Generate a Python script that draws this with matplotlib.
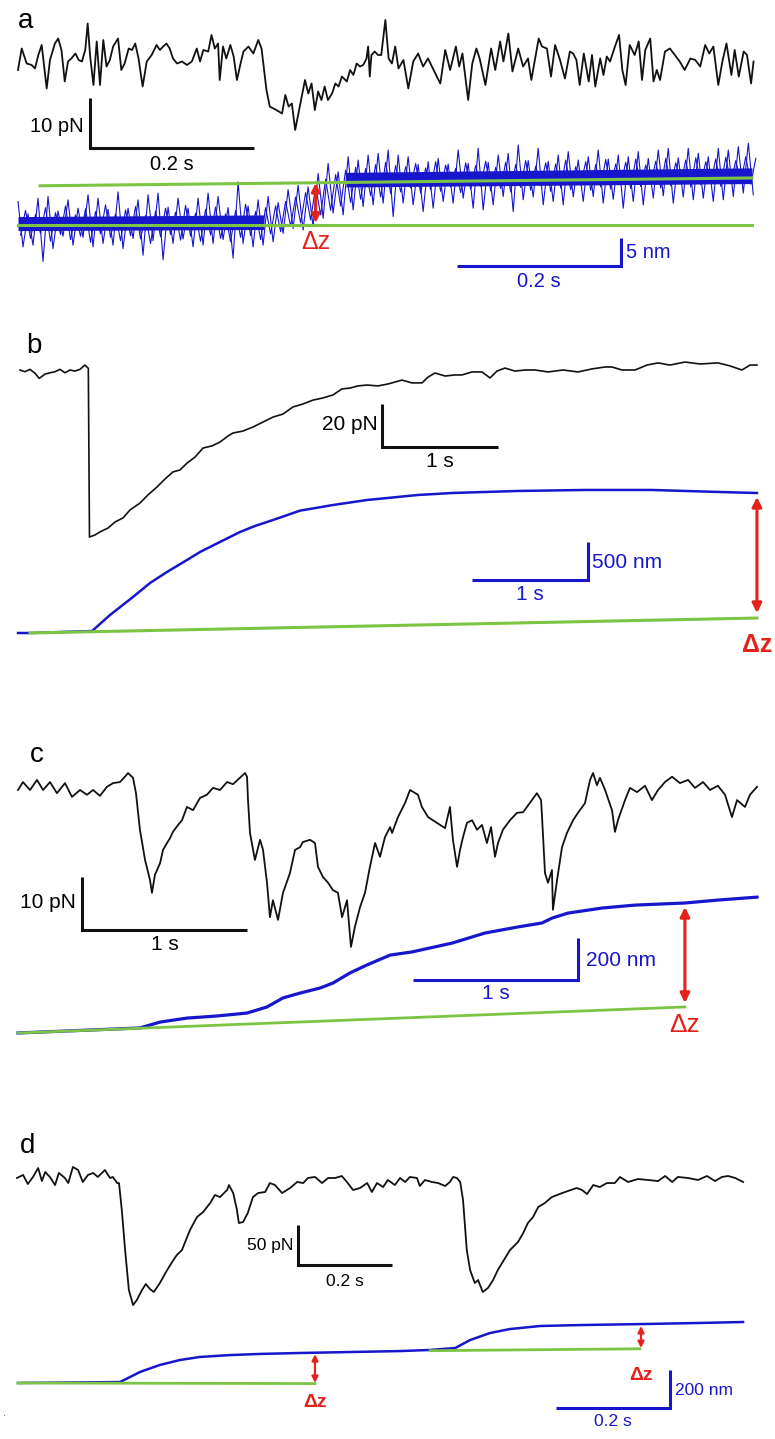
import matplotlib
matplotlib.use("Agg")
import matplotlib.pyplot as plt
import numpy as np

plt.rcParams["font.family"] = ["Liberation Sans", "DejaVu Sans"]

# ---- panel a : force (pN) and extension (nm) vs time (s)
ta_force = [0.000, 0.0045, 0.0106, 0.0167, 0.0207, 0.0248, 0.0289, 0.035, 0.039, 0.045,
            0.049, 0.053, 0.057, 0.061, 0.065, 0.070, 0.074, 0.078, 0.082, 0.085,
            0.088, 0.092, 0.096, 0.100, 0.104, 0.108, 0.112, 0.116, 0.122, 0.126,
            0.130, 0.135, 0.139, 0.143, 0.147, 0.152, 0.157, 0.163, 0.169, 0.173,
            0.177, 0.181, 0.185, 0.189, 0.194, 0.200, 0.206, 0.212, 0.218, 0.222,
            0.226, 0.232, 0.236, 0.240, 0.244, 0.246, 0.250, 0.254, 0.259, 0.263,
            0.267, 0.271, 0.275, 0.281, 0.287, 0.293, 0.297, 0.303, 0.307, 0.315,
            0.322, 0.326, 0.330, 0.334, 0.338, 0.342, 0.346, 0.350, 0.354, 0.358,
            0.362, 0.366, 0.370, 0.374, 0.378, 0.383, 0.387, 0.391, 0.395, 0.401,
            0.405, 0.409, 0.413, 0.417, 0.421, 0.425, 0.427, 0.429, 0.431, 0.435,
            0.439, 0.443, 0.448,
            0.452, 0.456, 0.460, 0.464, 0.470, 0.476, 0.482, 0.488, 0.494, 0.500,
            0.506, 0.515, 0.521, 0.527, 0.534, 0.538, 0.542, 0.549, 0.554, 0.559,
            0.563, 0.570, 0.577, 0.582, 0.588, 0.592, 0.598, 0.603, 0.610, 0.616,
            0.622, 0.626, 0.635, 0.639, 0.645, 0.650, 0.655, 0.661, 0.667, 0.673,
            0.677, 0.681, 0.685, 0.690, 0.696, 0.700, 0.704, 0.710, 0.714, 0.718,
            0.722, 0.728, 0.733, 0.737, 0.741, 0.746, 0.752, 0.757, 0.761, 0.765,
            0.771, 0.775, 0.779, 0.783, 0.789, 0.795, 0.801, 0.807, 0.813, 0.820,
            0.826, 0.832, 0.838, 0.843, 0.848, 0.854, 0.859, 0.864, 0.870, 0.874,
            0.879, 0.885, 0.889, 0.894, 0.897]
fa_force = [-2.0, 2.3, -0.7, -1.0, -1.7, 1.0, 3.0, -5.7, 0, 3.3,
            4.3, 2.0, -4.3, -0.3, 0.3, 1.3, 0, -0.3, 2.0, 7.3,
            0.7, -5.0, 3.7, -5.0, 4.0, -1.3, 0, 2.7, 4.3, -2.0,
            -0.7, 2.3, 2.0, 3.3, 0.3, -5.3, -0.3, 1.0, 3.0, 2.0,
            2.7, 3.3, 2.3, 0.3, -0.7, -0.3, -1.0, -0.3, 2.3, -0.3,
            2.0, 1.7, 5.0, 2.3, 3.3, -4.0, 2.7, 0.3, 3.0, 0.7,
            -4.0, -1.0, 1.7, 2.7, 1.3, 4.0, 2.3, -6.0, -9.3, -10.0,
            -10.7, -7.0, -9.3, -8.7, -14.0, -10.7, -7.3, -4.0, -6.7, -4.7,
            -10.0, -6.3, -8.0, -5.3, -8.0, -6.7, -4.7, -5.3, -3.3, -4.3,
            -2.0, -3.0, -0.7, -1.3, -1.0, 0.3, 2.7, -3.3, 1.0, 1.7,
            1.0, 1.0, 8.0,
            0.3, -0.7, 2.7, -1.7, 0, -5.7, -0.3, 1.3, -1.3, 0.3,
            -1.7, -4.7, 2.0, -2.0, 2.7, -1.3, 1.3, -8.0, -0.7, 2.3,
            0.3, -5.0, 2.3, -2.0, 3.7, -0.3, 5.3, -2.3, 2.3, -1.3,
            0.3, -4.0, 4.3, 2.7, 2.3, -3.3, 3.0, 0, -3.7, 1.7,
            1.3, 0, -5.0, 1.3, -4.3, 1.0, -5.3, 0.3, -3.0, 0.7,
            -0.3, 2.7, 5.0, -2.0, -5.0, 3.0, 1.0, 3.7, -4.0, 2.0,
            4.3, -4.3, -2.0, -4.0, 1.7, 2.3, 1.0, -0.3, -2.0, 0.3,
            0, -1.3, 3.0, 1.3, 2.7, -5.0, -0.3, 3.3, -3.0, 2.0,
            -3.3, 1.7, 1.0, -4.7, -0.3]

# extension trace a, sampled every dt_a seconds: peak readings and body readings
dt_a = 0.0061
za_ext = [4.2, -3.9, 2.0, -3.6, 4.8, -6.5, 5.1, -4.2, 2.5, -2.0,
          4.5, -3.6, 3.0, -2.2, 5.4, -3.9, 4.8, -3.3, 2.8, -3.6,
          5.9, -4.2, 3.0, -2.4, 4.5, -5.4, 5.4, -2.8, 5.7, -6.2,
          3.2, -3.3, 4.8, -2.5, 3.0, -3.9, 4.8, -3.6, 5.7, -3.3,
          5.1, -2.6, 3.1, -5.9, 7.7, -3.3, 3.4, -3.9, 4.5, -3.6,
          5.1, -3.0, 4.0, -1.5, 6.3, -0.6, 7.1, -0.9, 6.8, -0.3,
          9.2, 1.2, 11.0, 2.1, 9.5, 1.8, 12.2, 2.7, 11.6, 3.3,
          12.5, 3.6, 12.8, 3.9, 13.4, 1.5, 12.5, 3.9, 12.2, 3.6,
          10.8, 2.4, 11.3, 3.0, 11.9, 4.2, 10.9, 3.9, 13.4, 4.8,
          11.0, 3.0, 13.7, 2.7, 11.2, 3.6, 12.5, 5.1, 12.8, 2.4,
          14.3, 4.5, 11.5, 5.0, 13.7, 3.6, 11.4, 4.2, 12.5, 3.6,
          13.1, 5.0, 11.6, 4.2, 12.2, 5.1, 13.4, 3.9, 11.8, 4.6,
          12.5, 3.0, 12.2, 4.2, 13.1, 3.6, 11.9, 4.8, 13.4, 5.2,
          13.7, 3.9, 12.0, 5.0, 13.7, 4.5, 12.8, 4.8, 12.2, 4.2,
          13.7, 4.5, 13.4, 5.1, 14.0, 5.7, 14.6, 5.4]
za_body = [-1.8, 2.6, -2.4, 1.9, -1.5, 3.1, -2.9, 2.2, -1.7, 3.4,
           -2.6, 1.8, -2.0, 2.9, -3.1, 2.4, -1.6, 3.6, -2.2, 2.0,
           -2.8, 2.7, -1.9, 3.3, -2.5, 1.7, -3.3, 2.5, -2.1, 3.0,
           -1.7, 2.3, -2.7, 3.5, -2.0, 2.1, -2.9, 2.8, -1.8, 3.2,
           -2.4, 2.0, -3.0, 2.6, -2.2, 3.7, -1.9, 2.4, -2.6, 3.1,
           -1.6, 3.4, -1.2, 4.2,
           -0.2, 5.0, 0.4, 5.8, 0.9, 6.9, 1.8, 8.2, 2.6, 9.0,
           3.4, 9.8, 4.0, 10.3, 4.6, 10.1, 5.2, 10.8, 5.0, 11.2, 5.6, 10.6,
           5.9, 10.4, 6.6, 11.0, 5.7, 10.2, 6.3, 11.3, 6.0, 10.7,
           6.8, 10.1, 5.8, 11.1, 6.4, 10.6, 6.9, 11.4, 6.1, 10.3,
           6.5, 11.2, 5.9, 10.8, 6.7, 11.5, 6.2, 10.5, 7.0, 11.1,
           6.0, 10.9, 6.6, 11.6, 6.3, 10.4, 7.1, 11.3, 6.2, 10.8,
           6.8, 11.7, 6.4, 10.9, 7.2, 11.2, 6.5, 11.8, 6.9, 10.7,
           7.3, 11.4, 6.6, 11.9, 7.0, 11.1, 7.4, 11.6, 6.8, 12.0,
           7.2, 11.3, 7.6, 11.8, 6.9, 12.1, 7.5, 11.5, 7.7, 12.2,
           7.3, 11.9]
core_left_t = [0, 0.300]
core_left_lo = [-1.0, -0.8]
core_left_hi = [1.5, 1.8]
core_right_t = [0.400, 0.895]
core_right_lo = [6.8, 7.4]
core_right_hi = [9.4, 10.2]
base_a_t = [0, 0.895]
base_a_z = [0, 0]
top_a_t = [0.027, 0.895]
top_a_z = [7.0, 8.4]

# ---- panel b
tb_force = [0, 0.043, 0.086, 0.129, 0.166, 0.216, 0.259, 0.302, 0.345, 0.388,
            0.431, 0.474, 0.517, 0.560, 0.589, 0.599, 0.647, 0.690, 0.759, 0.819,
            0.888, 0.948, 1.034, 1.103, 1.181, 1.250, 1.319, 1.379, 1.440, 1.509,
            1.578, 1.655, 1.724, 1.793, 1.836, 1.922, 2.009, 2.095, 2.181, 2.267,
            2.353, 2.440, 2.526, 2.612, 2.698, 2.776, 2.845, 2.914, 2.991, 3.086,
            3.172, 3.233, 3.293, 3.379, 3.466, 3.517, 3.578, 3.664, 3.750, 3.810,
            3.897, 3.983, 4.052, 4.112, 4.181, 4.267, 4.353, 4.440, 4.552, 4.681,
            4.810, 4.931, 5.043, 5.103, 5.190, 5.302, 5.405, 5.500, 5.603, 5.733,
            5.862, 6.017, 6.121, 6.224, 6.293, 6.353]
fb_force = [0, -0.8, 0.3, -1.5, -3.9, -1.9, -1.3, -0.8, 0.3, -1.3,
            0, -0.5, 0.3, 2.3, 0.8, -77.7, -76.7, -75.3, -73.5, -70.7,
            -68.8, -65.1, -61.9, -58.1, -54.4, -50.7, -47.4, -46.5, -43.3, -40.5,
            -36.3, -35.3, -33.5, -30.7, -29.3, -28.4, -26.5, -24.2, -21.9, -20.5,
            -17.2, -15.8, -14.0, -13.0, -11.6, -8.8, -8.4, -7.4, -7.0, -7.4,
            -6.5, -5.6, -4.7, -6.0, -6.0, -3.3, -1.4, -2.8, -2.3, -2.3,
            -0.9, -0.9, -3.7, -0.5, 0.9, -0.5, 0, 0, -0.9, 0,
            -0.9, 0.5, 1.4, 1.4, 0, 0, 2.3, 3.3, 2.3, 3.7,
            2.8, 3.3, 1.9, 0, 2.3, 2.3]
tb_ext = [-0.017, 0.086, 0.621, 0.776, 0.974, 1.121, 1.267, 1.440, 1.552, 1.724,
          1.897, 2.026, 2.181, 2.414, 2.698, 2.991, 3.172, 3.431, 3.724, 4.293,
          4.871, 5.448, 6.017, 6.353]
zb_ext = [0, 0, 26, 237, 474, 658, 803, 961, 1066, 1198,
          1329, 1408, 1487, 1610, 1684, 1750, 1777, 1816, 1842, 1869,
          1882, 1882, 1856, 1842]
base_b_t = [0.086, 6.353]
base_b_z = [0, 197]

# ---- panel c
tc_force = [0, 0.030, 0.073, 0.115, 0.152, 0.194, 0.236, 0.285, 0.327, 0.376,
            0.418, 0.455, 0.497, 0.539, 0.576, 0.618, 0.648, 0.667, 0.697, 0.715,
            0.739, 0.770, 0.800, 0.812, 0.830, 0.861, 0.879, 0.903, 0.921, 0.939,
            0.970, 0.994, 1.024, 1.061, 1.103, 1.145, 1.182, 1.224, 1.267, 1.303,
            1.345, 1.376, 1.388, 1.394, 1.406, 1.436, 1.467, 1.485, 1.509, 1.527,
            1.545, 1.576, 1.606, 1.648, 1.679, 1.709, 1.727, 1.770, 1.800, 1.818,
            1.848, 1.879, 1.909, 1.939, 1.964, 1.994, 2.018, 2.042, 2.073, 2.103,
            2.133, 2.164, 2.194, 2.224, 2.255, 2.267, 2.303, 2.345, 2.376, 2.424,
            2.448, 2.485, 2.539, 2.588, 2.618, 2.636, 2.661, 2.679, 2.697, 2.721,
            2.752, 2.782, 2.812, 2.842, 2.867, 2.891, 2.909, 2.939, 2.982, 3.024,
            3.061, 3.115, 3.145, 3.170, 3.176, 3.194, 3.212, 3.236, 3.242, 3.267,
            3.297, 3.327, 3.364, 3.394, 3.436, 3.467, 3.485, 3.509, 3.527, 3.558,
            3.600, 3.618, 3.636, 3.679, 3.709, 3.752, 3.800, 3.842, 3.879, 3.921,
            3.964, 4.012, 4.061, 4.103, 4.152, 4.194, 4.242, 4.285, 4.327, 4.358,
            4.406, 4.436, 4.479]
fc_force = [0, 1.5, 0, 1.9, 0, 1.5, -0.6, 1.3, -1.3, 0,
            -0.9, 0, -1.1, 0.6, 1.3, 1.5, 2.5, 3.2, 2.3, -0.6,
            -7.5, -13.2, -17.0, -19.4, -16.0, -13.8, -11.3, -10.0, -9.1, -7.9,
            -6.6, -5.7, -3.2, -3.8, -1.5, -0.9, 0.4, 0, 1.5, 1.1,
            2.3, 3.2, 2.5, -1.9, -8.1, -13.2, -9.4, -11.3, -17.5, -24.0,
            -20.8, -24.5, -19.4, -15.7, -11.3, -10.8, -9.8, -9.4, -10.0, -14.5,
            -16.4, -17.5, -18.9, -19.4, -24.0, -20.8, -29.6, -25.8, -22.1, -19.4,
            -14.5, -10.0, -12.6, -8.9, -7.0, -8.1, -5.1, -2.5, 0, -0.9,
            -3.2, -5.1, -6.2, -7.2, -3.2, -9.4, -14.5, -11.3, -8.9, -6.2,
            -5.7, -7.5, -6.6, -10.0, -7.0, -12.6, -10.0, -7.5, -5.7, -4.3,
            -4.2, -1.9, -0.6, -1.9, -5.1, -15.7, -17.5, -15.1, -22.6, -17.0,
            -10.8, -8.1, -5.7, -4.3, -2.5, 1.9, 3.2, 0.9, 2.3, 0,
            -3.8, -7.9, -5.7, -1.9, 0.4, -0.4, 0.8, -1.9, 0, 1.5,
            2.5, 1.3, 1.9, 0.4, 1.5, 0, 0.8, -0.9, -5.1, -1.9,
            -3.2, -0.9, 0.6]
tc_ext = [0, 0.739, 0.861, 1.024, 1.206, 1.388, 1.509, 1.606, 1.709, 1.830,
          1.909, 2.012, 2.115, 2.255, 2.388, 2.630, 2.830, 3.030, 3.176, 3.236,
          3.333, 3.539, 3.739, 4.042, 4.242, 4.479]
zc_ext = [0, 24, 52, 71, 81, 95, 124, 167, 190, 214,
          238, 286, 324, 371, 386, 428, 476, 505, 524, 547,
          571, 595, 609, 619, 633, 647]
base_c_t = [0, 4.042]
base_c_z = [0, 124]

# ---- panel d
td_force = [0, 0.013, 0.023, 0.034, 0.045, 0.053, 0.060, 0.070, 0.081, 0.089,
            0.102, 0.109, 0.119, 0.130, 0.140, 0.151, 0.162, 0.172, 0.187, 0.198,
            0.204, 0.213, 0.217, 0.223, 0.230, 0.238, 0.247, 0.255, 0.266, 0.274,
            0.283, 0.291, 0.304, 0.317, 0.330, 0.340, 0.351, 0.368, 0.383, 0.396,
            0.411, 0.421, 0.432, 0.447, 0.451, 0.460, 0.468, 0.472, 0.481, 0.491,
            0.502, 0.513, 0.528, 0.538, 0.549, 0.564, 0.581, 0.596, 0.609, 0.619,
            0.634, 0.649, 0.662, 0.677, 0.691, 0.702, 0.715, 0.730, 0.745, 0.755,
            0.766, 0.779, 0.789, 0.804, 0.815, 0.826, 0.836, 0.851, 0.857, 0.868,
            0.883, 0.896, 0.911, 0.921, 0.928, 0.936, 0.943, 0.949, 0.957, 0.964,
            0.974, 0.981, 0.991, 1.002, 1.013, 1.023, 1.036, 1.049, 1.066, 1.077,
            1.087, 1.098, 1.109, 1.123, 1.138, 1.160, 1.172, 1.191, 1.202, 1.213,
            1.226, 1.240, 1.255, 1.272, 1.283, 1.300, 1.321, 1.343, 1.364, 1.379,
            1.394, 1.406, 1.428, 1.449, 1.468, 1.485, 1.500, 1.513, 1.528, 1.545]
fd_force = [0, 3.8, -7.5, 1.3, 12.5, -3.8, 7.5, 1.3, -8.8, 6.3,
            0, -6.3, 13.8, 10.0, -5.0, 3.8, 6.3, 1.3, 10.0, 0,
            1.3, -6.3, -6.3, -40, -90, -140, -158.8, -152.5, -140, -132.5,
            -138.8, -142.5, -131.3, -117.5, -105, -96.3, -90, -65, -48.8, -42.5,
            -31.3, -21.3, -23.8, -15, -8.8, -18.8, -40, -56.3, -55, -43.8,
            -23.8, -18.8, -17.5, -6.3, -8.8, -18.8, -12.5, -5, -6.3, 0,
            1.3, -6.3, 0, 0, 2.5, -5, -15, -12.5, -6.3, -17.5,
            -6.3, -11.3, -2.5, -8.8, 0, -5, 1.3, 0, -10, -2.5,
            -5, -6.3, -10, -5, 1.3, 0, -5, -27.5, -90, -115,
            -131.3, -127.5, -142.5, -137.5, -127.5, -115, -102.5, -90, -80, -68.8,
            -56.3, -48.8, -36.3, -31.3, -23.8, -18.8, -16.3, -12.5, -15, -20,
            -8.8, -11.3, -6.3, -6.3, 1.3, -5, -1.3, -2.5, -3.8, 2.5,
            -5, 1.3, 0, -2.5, 2.5, -3.8, 1.3, 2.5, 0, -5]
td_ext = [0, 0.179, 0.214, 0.249, 0.284, 0.319, 0.372, 0.425, 0.495, 0.582,
          0.670, 0.723, 0.767, 0.793, 0.828, 0.863, 0.916, 0.986, 1.091, 1.196, 1.272]
zd_ext = [0, 5, 58, 95, 121, 137, 147, 153, 158, 163,
          168, 174, 184, 226, 263, 284, 300, 305, 310, 316, 321]
base_d1_t = [0, 0.521]
base_d1_z = [0, -3]
base_d2_t = [0.723, 1.091]
base_d2_z = [170, 180]

BLACK = "#111111"
BLUE = "#1616cc"
GREEN = "#7bc444"
RED = "#e3221c"

W, H = 775, 1439
fig = plt.figure(figsize=(W / 100, H / 100), dpi=100)


def layer(x0, pps, y0, ppu):
    # full-figure axes: time 0 at pixel x0 (pps px per s), value 0 at pixel y0 (ppu px per unit)
    ax = fig.add_axes([0, 0, 1, 1])
    ax.set_xlim(-x0 / pps, (W - x0) / pps)
    ax.set_ylim((y0 - H) / ppu, y0 / ppu)
    ax.axis("off")
    return ax


def bar(ax, t, v, dt, dv, color, left=True):
    if left:
        ax.plot([t, t, t + dt], [v + dv, v, v], color=color, lw=2.2,
                solid_joinstyle="miter", solid_capstyle="butt")
    else:
        ax.plot([t - dt, t, t], [v, v, v + dv], color=color, lw=2.2,
                solid_joinstyle="miter", solid_capstyle="butt")


def dz_arrow(ax, t, v1, v2, lw=2.2, ms=14):
    ax.annotate("", xy=(t, v1), xytext=(t, v2),
                arrowprops=dict(arrowstyle="<|-|>", color=RED, lw=lw,
                                mutation_scale=ms, shrinkA=0, shrinkB=0))


# ---------------- a
ax = layer(18, 820, 60, 5)
ax.plot(ta_force, fa_force, color=BLACK, lw=1.3)
bar(ax, 0.0878, -17.6, 0.2, 10, BLACK)
ax.text(0.080, -13.4, "10 pN", ha="right", va="center", fontsize=14.5)
ax.text(0.188, -20.8, "0.2 s", ha="center", va="center", fontsize=14.5)

ax = layer(18, 820, 225, 5.6)
t_ext = np.arange(len(za_ext)) * dt_a
ax.fill_between(core_left_t, core_left_lo, core_left_hi, color=BLUE, lw=0, zorder=1)
ax.fill_between(core_right_t, core_right_lo, core_right_hi, color=BLUE, lw=0, zorder=1)
ax.plot(t_ext, za_ext, color=BLUE, lw=0.8, zorder=2)
ax.plot(t_ext + dt_a / 2, za_body, color=BLUE, lw=0.8, zorder=2)
ax.plot(base_a_t, base_a_z, color=GREEN, lw=2.2, zorder=3)
ax.plot(top_a_t, top_a_z, color=GREEN, lw=2.2, zorder=3)
dz_arrow(ax, 0.363, 7.5, 0.4, lw=2.2, ms=12)
ax.text(0.363, -3.0, "Δz", color=RED, ha="center", va="center", fontsize=18)
bar(ax, 0.735, -7.3, 0.2, 5, BLUE, left=False)
ax.text(0.742, -5.0, "5 nm", color=BLUE, ha="left", va="center", fontsize=14.5)
ax.text(0.635, -10.1, "0.2 s", color=BLUE, ha="center", va="center", fontsize=14.5)

# ---------------- b
ax = layer(20, 116, 370, 2.15)
ax.plot(tb_force, fb_force, color=BLACK, lw=1.2)
bar(ax, 3.121, -35.8, 1, 20, BLACK)
ax.text(3.080, -25.3, "20 pN", ha="right", va="center", fontsize=15)
ax.text(3.621, -42.5, "1 s", ha="center", va="center", fontsize=15)

ax = layer(20, 116, 633, 0.076)
ax.plot(tb_ext, zb_ext, color=BLUE, lw=1.8, zorder=2)
ax.plot(base_b_t, base_b_z, color=GREEN, lw=2.2, zorder=3)
dz_arrow(ax, 6.353, 1790, 263, lw=2.2, ms=14)
ax.text(6.353, -160, "Δz", color=RED, ha="center", va="center", fontsize=18,
        fontweight="bold")
bar(ax, 4.897, 697, 1, 500, BLUE, left=False)
ax.text(4.935, 934, "500 nm", color=BLUE, ha="left", va="center", fontsize=15)
ax.text(4.397, 510, "1 s", color=BLUE, ha="center", va="center", fontsize=15)

# ---------------- c
ax = layer(18, 165, 790, 5.3)
ax.plot(tc_force, fc_force, color=BLACK, lw=1.3)
bar(ax, 0.388, -26.4, 1, 10, BLACK)
ax.text(0.350, -21.3, "10 pN", ha="right", va="center", fontsize=15)
ax.text(0.888, -29.1, "1 s", ha="center", va="center", fontsize=15)

ax = layer(18, 165, 1033, 0.21)
ax.plot(tc_ext, zc_ext, color=BLUE, lw=2.3, zorder=2)
ax.plot(base_c_t, base_c_z, color=GREEN, lw=2.0, zorder=3)
dz_arrow(ax, 4.042, 600, 143, lw=2.2, ms=14)
ax.text(4.042, 36, "Δz", color=RED, ha="center", va="center", fontsize=19)
bar(ax, 3.394, 252, 1, 200, BLUE, left=False)
ax.text(3.440, 347, "200 nm", color=BLUE, ha="left", va="center", fontsize=15)
ax.text(2.894, 188, "1 s", color=BLUE, ha="center", va="center", fontsize=15)

# ---------------- d
ax = layer(17, 470, 1178, 0.8)
ax.plot(td_force, fd_force, color=BLACK, lw=1.3)
bar(ax, 0.598, -108.8, 0.2, 50, BLACK)
ax.text(0.587, -83.8, "50 pN", ha="right", va="center", fontsize=12.5)
ax.text(0.698, -129, "0.2 s", ha="center", va="center", fontsize=12.5)

ax = layer(18, 570, 1383, 0.19)
ax.plot(td_ext, zd_ext, color=BLUE, lw=1.8, zorder=2)
ax.plot(base_d1_t, base_d1_z, color=GREEN, lw=2.0, zorder=3)
ax.plot(base_d2_t, base_d2_z, color=GREEN, lw=2.0, zorder=3)
dz_arrow(ax, 0.521, 152, 0, lw=1.6, ms=9)
dz_arrow(ax, 1.093, 300, 184, lw=1.6, ms=9)
ax.text(0.521, -105, "Δz", color=RED, ha="center", va="center", fontsize=14,
        fontweight="bold")
ax.text(1.093, 42, "Δz", color=RED, ha="center", va="center", fontsize=14,
        fontweight="bold")
bar(ax, 1.144, -132, 0.2, 200, BLUE, left=False)
ax.text(1.153, -37, "200 nm", color=BLUE, ha="left", va="center", fontsize=12.5)
ax.text(1.044, -205, "0.2 s", color=BLUE, ha="center", va="center", fontsize=12.5)

# panel letters and the stray dot at the lower left
for letter, px, py in (("a", 26, 28), ("b", 34, 353), ("c", 37, 762), ("d", 28, 1153)):
    fig.text(px / W, 1 - py / H, letter, ha="center", va="baseline", fontsize=20)
fig.text(4 / W, 1 - 1413 / H, ".", ha="center", va="center", fontsize=8, color="#555555")

fig.savefig("out.png", dpi=100)
